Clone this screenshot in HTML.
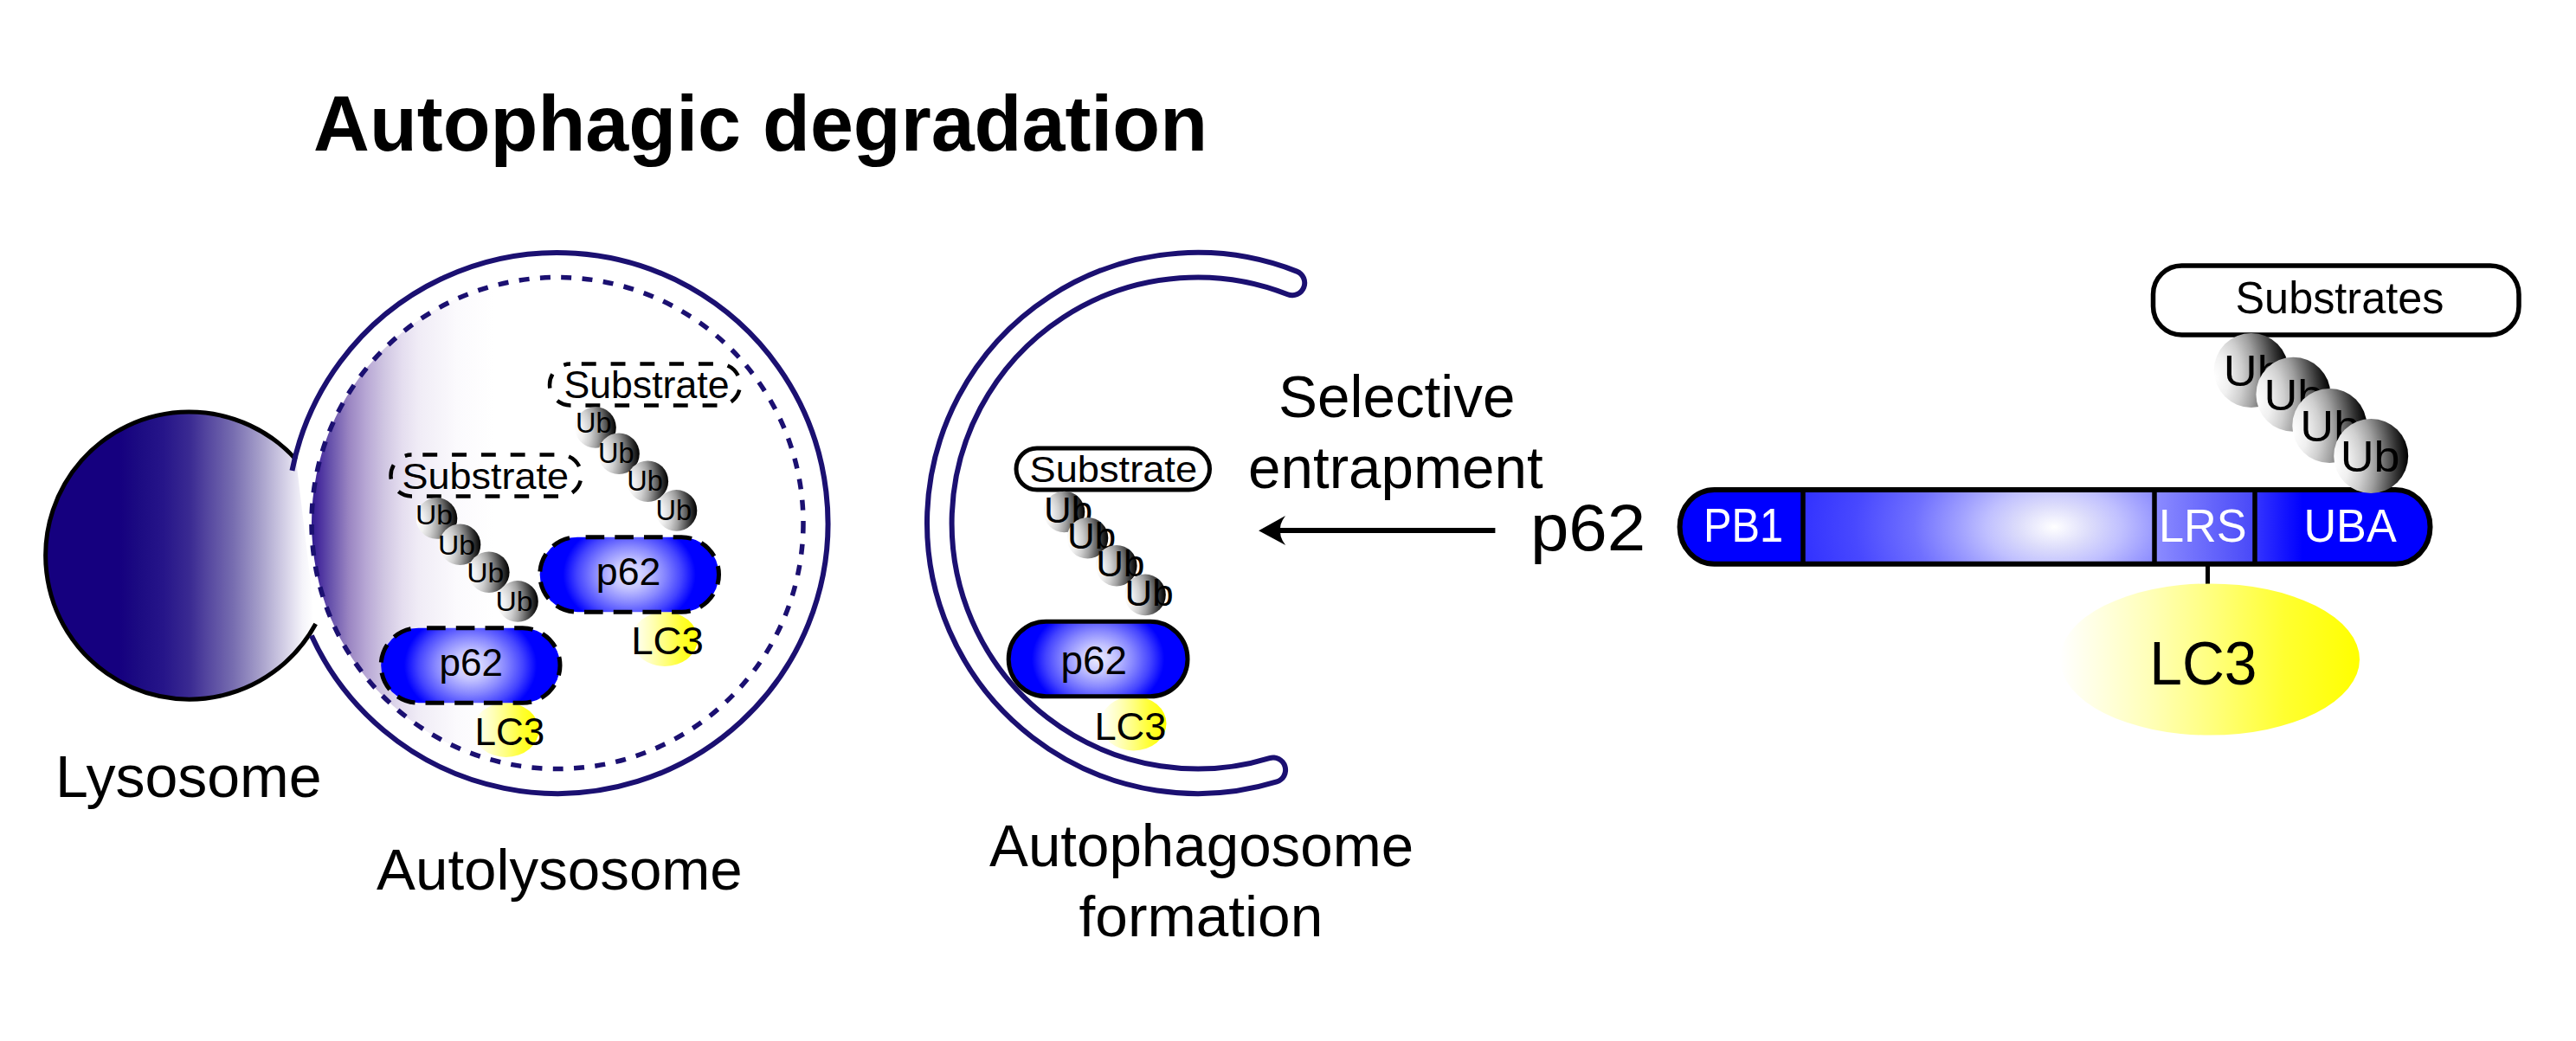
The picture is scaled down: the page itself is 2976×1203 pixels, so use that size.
<!DOCTYPE html>
<html><head><meta charset="utf-8"><style>
html,body{margin:0;padding:0;background:#fff;}
svg{display:block;}
text{font-family:"Liberation Sans", sans-serif;}
</style></head><body>
<svg width="2976" height="1203" viewBox="0 0 2976 1203">
<defs>
<linearGradient id="gLys" gradientUnits="userSpaceOnUse" x1="138" y1="0" x2="362" y2="0">
 <stop offset="0" stop-color="#15007f"/><stop offset="0.1" stop-color="#1c0b82"/>
 <stop offset="0.227" stop-color="#261589"/><stop offset="0.363" stop-color="#3a2a92"/>
 <stop offset="0.452" stop-color="#54469f"/><stop offset="0.587" stop-color="#776db0"/>
 <stop offset="0.72" stop-color="#a49dc9"/><stop offset="0.856" stop-color="#d5d1e7"/>
 <stop offset="0.946" stop-color="#f5f4fa"/><stop offset="1" stop-color="#ffffff"/>
</linearGradient>
<linearGradient id="gAuto" gradientUnits="userSpaceOnUse" x1="360" y1="0" x2="570" y2="0">
 <stop offset="0" stop-color="#301c8e"/><stop offset="0.033" stop-color="#44299c"/>
 <stop offset="0.11" stop-color="#6a55ad"/><stop offset="0.205" stop-color="#9a85c2"/>
 <stop offset="0.302" stop-color="#b8a8d5"/><stop offset="0.4" stop-color="#d0c6e2"/>
 <stop offset="0.495" stop-color="#e4ddef"/><stop offset="0.59" stop-color="#f0ecf6"/>
 <stop offset="0.8" stop-color="#fbfafd"/><stop offset="1" stop-color="#ffffff"/>
</linearGradient>
<radialGradient id="gP62" cx="0.5" cy="0.5" r="0.5" gradientTransform="translate(0.5 0.5) scale(0.78 1.5) translate(-0.5 -0.5)">
 <stop offset="0" stop-color="#ececff"/><stop offset="0.25" stop-color="#c4c4ff"/>
 <stop offset="0.5" stop-color="#8888ff"/><stop offset="0.75" stop-color="#4444ff"/>
 <stop offset="0.95" stop-color="#0000ff"/><stop offset="1" stop-color="#0000ff"/>
</radialGradient>
<linearGradient id="gLC3" x1="0" y1="0" x2="1" y2="0">
 <stop offset="0" stop-color="#ffffff"/><stop offset="0.3" stop-color="#ffffb8"/>
 <stop offset="0.5" stop-color="#ffff80"/><stop offset="0.75" stop-color="#ffff30"/>
 <stop offset="1" stop-color="#ffff00"/>
</linearGradient>
<radialGradient id="gUb" cx="0" cy="0.6" r="1" gradientTransform="translate(0 0.6) scale(1 1.6) translate(0 -0.6)">
 <stop offset="0" stop-color="#ffffff"/><stop offset="0.2" stop-color="#f0f0f0"/>
 <stop offset="0.38" stop-color="#cfcfcf"/><stop offset="0.55" stop-color="#a0a0a0"/>
 <stop offset="0.7" stop-color="#686868"/><stop offset="0.85" stop-color="#303030"/>
 <stop offset="1" stop-color="#000000"/>
</radialGradient>
<radialGradient id="gMid" gradientUnits="userSpaceOnUse" cx="2373" cy="609" r="300" gradientTransform="translate(0 243.6) scale(1 0.6)">
 <stop offset="0" stop-color="#ffffff"/><stop offset="0.14" stop-color="#dcdcfb"/>
 <stop offset="0.26" stop-color="#c0c0ff"/><stop offset="0.37" stop-color="#9f9fff"/>
 <stop offset="0.54" stop-color="#7070ff"/><stop offset="0.77" stop-color="#4848ff"/>
 <stop offset="1" stop-color="#3030ff"/>
</radialGradient>
<linearGradient id="gLRS" gradientUnits="userSpaceOnUse" x1="2489" y1="0" x2="2605" y2="0">
 <stop offset="0" stop-color="#8c8cff"/><stop offset="1" stop-color="#4848f8"/>
</linearGradient>
<linearGradient id="gUBA" gradientUnits="userSpaceOnUse" x1="2605" y1="0" x2="2660" y2="0">
 <stop offset="0" stop-color="#3535ff"/><stop offset="1" stop-color="#0000ff"/>
</linearGradient>
<clipPath id="barClip"><path d="M 1980.6 566 H 2767.5 A 40 42.89999999999998 0 0 1 2807.5 608.9 A 40 42.89999999999998 0 0 1 2767.5 651.8 H 1980.6 A 40 42.89999999999998 0 0 1 1940.6 608.9 A 40 42.89999999999998 0 0 1 1980.6 566 Z"/></clipPath></defs>
<rect x="0" y="0" width="2976" height="1203" fill="#fff"/>
<text transform="translate(362.10 174.00) scale(0.9926 1)" font-size="90.51" font-weight="bold" fill="#000">Autophagic degradation</text>
<path d="M 342 531 A 166 166 0 1 0 364.7 721 Z" fill="url(#gLys)"/>
<path d="M 342 531 A 166 166 0 1 0 364.7 721" fill="none" stroke="#000" stroke-width="5"/>
<circle cx="644" cy="604.5" r="284" fill="url(#gAuto)"/>
<path d="M 337.45 543.80 A 312.5 312.5 0 1 1 359.86 734.59" fill="none" stroke="#1b1071" stroke-width="6"/>
<circle cx="644" cy="604.5" r="284" fill="none" stroke="#1b1071" stroke-width="5.5" stroke-dasharray="12 12.4"/>
<ellipse cx="768.00" cy="738.50" rx="38" ry="31.5" fill="url(#gLC3)"/>
<rect x="623.70" y="620.70" width="206.8" height="86.6" rx="43.3" ry="43.3" fill="url(#gP62)" stroke="#000" stroke-width="5" stroke-dasharray="21.6 12.1" stroke-dashoffset="-9.6"/>
<text transform="translate(688.85 676.00) scale(1.0149 1)" font-size="44.00" font-weight="normal" fill="#000">p62</text>
<text transform="translate(729.24 755.60) scale(1.0205 1)" font-size="44.73" font-weight="normal" fill="#000">LC3</text>
<rect x="635.00" y="420.50" width="220" height="48" rx="24" ry="24" fill="none" stroke="#000" stroke-width="4.5" stroke-dasharray="16.9 16.9" stroke-dashoffset="-12.8"/>
<text transform="translate(651.41 460.00) scale(1.0067 1)" font-size="44.37" font-weight="normal" fill="#000">Substrate</text>
<circle cx="688.00" cy="494.00" r="23.8" fill="url(#gUb)"/>
<text transform="translate(665.02 500.40) scale(0.9650 1)" font-size="33.71" font-weight="normal" fill="#000">Ub</text>
<circle cx="715.00" cy="524.30" r="23.8" fill="url(#gUb)"/>
<text transform="translate(691.02 534.90) scale(0.9650 1)" font-size="33.71" font-weight="normal" fill="#000">Ub</text>
<circle cx="748.30" cy="556.20" r="23.8" fill="url(#gUb)"/>
<text transform="translate(724.32 566.80) scale(0.9650 1)" font-size="33.71" font-weight="normal" fill="#000">Ub</text>
<circle cx="781.50" cy="589.90" r="23.8" fill="url(#gUb)"/>
<text transform="translate(757.52 600.50) scale(0.9650 1)" font-size="33.71" font-weight="normal" fill="#000">Ub</text>
<ellipse cx="584.50" cy="843.50" rx="38" ry="31.5" fill="url(#gLC3)"/>
<rect x="440.20" y="725.70" width="206.8" height="86.6" rx="43.3" ry="43.3" fill="url(#gP62)" stroke="#000" stroke-width="5" stroke-dasharray="21.6 12.1" stroke-dashoffset="-9.6"/>
<text transform="translate(507.50 781.00) scale(1.0000 1)" font-size="44.00" font-weight="normal" fill="#000">p62</text>
<text transform="translate(548.50 860.60) scale(1.0000 1)" font-size="44.00" font-weight="normal" fill="#000">LC3</text>
<rect x="451.50" y="525.50" width="220" height="48" rx="24" ry="24" fill="none" stroke="#000" stroke-width="4.5" stroke-dasharray="16.9 16.9" stroke-dashoffset="-12.8"/>
<text transform="translate(464.50 564.50) scale(1.0625 1)" font-size="42.35" font-weight="normal" fill="#000">Substrate</text>
<circle cx="504.50" cy="599.00" r="23.8" fill="url(#gUb)"/>
<text transform="translate(479.91 606.10) scale(1.0885 1)" font-size="31.02" font-weight="normal" fill="#000">Ub</text>
<circle cx="531.50" cy="629.30" r="23.8" fill="url(#gUb)"/>
<text transform="translate(505.91 640.60) scale(1.0885 1)" font-size="31.02" font-weight="normal" fill="#000">Ub</text>
<circle cx="564.80" cy="661.20" r="23.8" fill="url(#gUb)"/>
<text transform="translate(539.21 672.50) scale(1.0885 1)" font-size="31.02" font-weight="normal" fill="#000">Ub</text>
<circle cx="598.00" cy="694.90" r="23.8" fill="url(#gUb)"/>
<text transform="translate(572.41 706.20) scale(1.0885 1)" font-size="31.02" font-weight="normal" fill="#000">Ub</text>
<path d="M 1492.93 326.96 A 298.30 298.30 0 1 0 1470.81 889.77" fill="none" stroke="#1b1071" stroke-width="34.60" stroke-linecap="round"/>
<path d="M 1492.93 326.96 A 298.30 298.30 0 1 0 1470.81 889.77" fill="none" stroke="#fff" stroke-width="22.60" stroke-linecap="round"/>
<ellipse cx="1309.50" cy="836.00" rx="38" ry="31.5" fill="url(#gLC3)"/>
<rect x="1165.20" y="718.20" width="206.8" height="86.6" rx="43.3" ry="43.3" fill="url(#gP62)" stroke="#000" stroke-width="5" />
<text transform="translate(1225.49 779.20) scale(1.0024 1)" font-size="45.74" font-weight="normal" fill="#000">p62</text>
<text transform="translate(1264.40 854.70) scale(1.0095 1)" font-size="44.81" font-weight="normal" fill="#000">LC3</text>
<rect x="1174.00" y="518.00" width="223.5" height="48" rx="24" ry="24" fill="#fff" stroke="#000" stroke-width="5" />
<text transform="translate(1189.59 556.70) scale(1.0615 1)" font-size="42.60" font-weight="normal" fill="#000">Substrate</text>
<circle cx="1229.50" cy="591.50" r="23.8" fill="url(#gUb)"/>
<text transform="translate(1206.07 603.90) scale(1.0461 1)" font-size="41.96" font-weight="normal" fill="#000">Ub</text>
<circle cx="1256.50" cy="621.80" r="23.8" fill="url(#gUb)"/>
<text transform="translate(1233.07 634.20) scale(1.0461 1)" font-size="41.96" font-weight="normal" fill="#000">Ub</text>
<circle cx="1289.80" cy="653.70" r="23.8" fill="url(#gUb)"/>
<text transform="translate(1266.37 666.10) scale(1.0461 1)" font-size="41.96" font-weight="normal" fill="#000">Ub</text>
<circle cx="1323.00" cy="687.40" r="23.8" fill="url(#gUb)"/>
<text transform="translate(1299.57 699.80) scale(1.0461 1)" font-size="41.96" font-weight="normal" fill="#000">Ub</text>
<text transform="translate(1477.07 482.40) scale(0.9960 1)" font-size="67.66" font-weight="normal" fill="#000">Selective</text>
<text transform="translate(1442.07 563.60) scale(0.9718 1)" font-size="69.32" font-weight="normal" fill="#000">entrapment</text>
<line x1="1476" y1="613.1" x2="1727.4" y2="613.1" stroke="#000" stroke-width="6"/>
<path d="M 1454.1 613.2 L 1485 596 Q 1477 607 1479.8 613.2 Q 1477 619 1485.2 630 Z" fill="#000"/>
<text transform="translate(1767.88 636.00) scale(1.0610 1)" font-size="75.34" font-weight="normal" fill="#000">p62</text>
<g clip-path="url(#barClip)">
<rect x="1930" y="560" width="155" height="100" fill="#0000ff"/>
<rect x="2083" y="560" width="406" height="100" fill="url(#gMid)"/>
<rect x="2489" y="560" width="116" height="100" fill="url(#gLRS)"/>
<rect x="2605" y="560" width="210" height="100" fill="url(#gUBA)"/>
</g>
<path d="M 1980.6 566 H 2767.5 A 40 42.89999999999998 0 0 1 2807.5 608.9 A 40 42.89999999999998 0 0 1 2767.5 651.8 H 1980.6 A 40 42.89999999999998 0 0 1 1940.6 608.9 A 40 42.89999999999998 0 0 1 1980.6 566 Z" fill="none" stroke="#000" stroke-width="6"/>
<line x1="2083" y1="566" x2="2083" y2="651.8" stroke="#000" stroke-width="5.5"/>
<line x1="2489" y1="566" x2="2489" y2="651.8" stroke="#000" stroke-width="5.5"/>
<line x1="2605" y1="566" x2="2605" y2="651.8" stroke="#000" stroke-width="5.5"/>
<text transform="translate(1968.05 626.00) scale(0.8768 1)" font-size="55.58" font-weight="normal" fill="#fff">PB1</text>
<text transform="translate(2494.02 626.00) scale(0.9841 1)" font-size="53.07" font-weight="normal" fill="#fff">LRS</text>
<text transform="translate(2661.41 626.00) scale(0.9570 1)" font-size="54.55" font-weight="normal" fill="#fff">UBA</text>
<line x1="2550.5" y1="651" x2="2550.5" y2="676" stroke="#000" stroke-width="5"/>
<ellipse cx="2553" cy="762" rx="173" ry="87.6" fill="url(#gLC3)"/>
<text transform="translate(2483.20 791.00) scale(0.9659 1)" font-size="70.16" font-weight="normal" fill="#000">LC3</text>
<rect x="2487.5" y="307" width="422.5" height="80" rx="33" ry="33" fill="#fff" stroke="#000" stroke-width="5.5"/>
<text transform="translate(2582.49 361.90) scale(0.9792 1)" font-size="51.49" font-weight="normal" fill="#000">Substrates</text>
<circle cx="2600.8" cy="427.9" r="43" fill="url(#gUb)"/>
<text transform="translate(2568.85 445.80) scale(1.0631 1)" font-size="50.64" font-weight="normal" fill="#000">Ub</text>
<circle cx="2649.4" cy="455.8" r="43" fill="url(#gUb)"/>
<text transform="translate(2615.45 473.70) scale(1.0631 1)" font-size="50.64" font-weight="normal" fill="#000">Ub</text>
<circle cx="2691.3" cy="492" r="43" fill="url(#gUb)"/>
<text transform="translate(2657.35 509.90) scale(1.0631 1)" font-size="50.64" font-weight="normal" fill="#000">Ub</text>
<circle cx="2739.2" cy="527" r="43" fill="url(#gUb)"/>
<text transform="translate(2703.75 544.90) scale(1.0631 1)" font-size="50.64" font-weight="normal" fill="#000">Ub</text>
<text transform="translate(64.12 921.10) scale(0.9973 1)" font-size="68.21" font-weight="normal" fill="#000">Lysosome</text>
<text transform="translate(435.10 1027.60) scale(1.0211 1)" font-size="65.93" font-weight="normal" fill="#000">Autolysosome</text>
<text transform="translate(1143.00 1001.30) scale(0.9948 1)" font-size="67.66" font-weight="normal" fill="#000">Autophagosome</text>
<text transform="translate(1246.52 1082.00) scale(1.0080 1)" font-size="67.07" font-weight="normal" fill="#000">formation</text>
</svg>
</body></html>
